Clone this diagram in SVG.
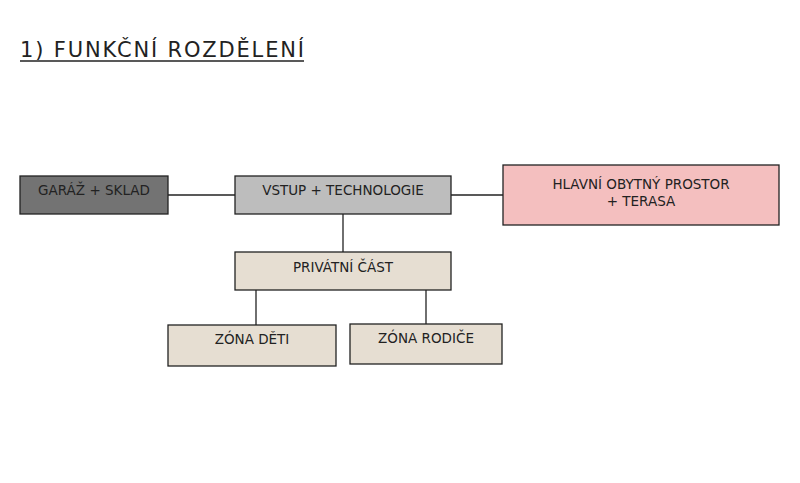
<svg xmlns="http://www.w3.org/2000/svg" width="800" height="483" viewBox="0 0 800 483">
<style>
.n rect{stroke:#222;stroke-width:1.3}
text{font-family:"DejaVu Sans","Open Sans",sans-serif;font-size:13.5px;fill:#222;text-anchor:middle}
.c line{stroke:#222;stroke-width:1.3}
</style>
<rect x="0" y="0" width="800" height="483" fill="#fff"/>
<g id="title"><text x="20" y="57" style="text-anchor:start;font-size:21px" textLength="284">1) FUNKČNÍ ROZDĚLENÍ</text><line x1="20" y1="61" x2="304" y2="61" stroke="#222" stroke-width="1.3"/></g>
<g class="c" id="connectors">
<line x1="168" y1="195" x2="235" y2="195"/>
<line x1="451" y1="195" x2="503" y2="195"/>
<line x1="343" y1="214" x2="343" y2="252"/>
<line x1="256" y1="290" x2="256" y2="325"/>
<line x1="426" y1="290" x2="426" y2="324"/>
</g>
<g class="n" id="garaz"><rect x="20" y="176" width="148" height="38" fill="#737373"/><text x="94" y="195">GARÁŽ + SKLAD</text></g>
<g class="n" id="vstup"><rect x="235" y="176" width="216" height="38" fill="#bdbdbd"/><text x="343" y="195">VSTUP + TECHNOLOGIE</text></g>
<g class="n" id="hlavni"><rect x="503" y="165" width="276" height="60" fill="#f4bfbf"/><text x="641" y="189">HLAVNÍ OBYTNÝ PROSTOR</text><text x="641" y="206">+ TERASA</text></g>
<g class="n" id="privatni"><rect x="235" y="252" width="216" height="38" fill="#e6ded2"/><text x="343" y="272">PRIVÁTNÍ ČÁST</text></g>
<g class="n" id="deti"><rect x="168" y="325" width="168" height="41" fill="#e6ded2"/><text x="252" y="344">ZÓNA DĚTI</text></g>
<g class="n" id="rodice"><rect x="350" y="324" width="152" height="40" fill="#e6ded2"/><text x="426" y="343">ZÓNA RODIČE</text></g>
</svg>
